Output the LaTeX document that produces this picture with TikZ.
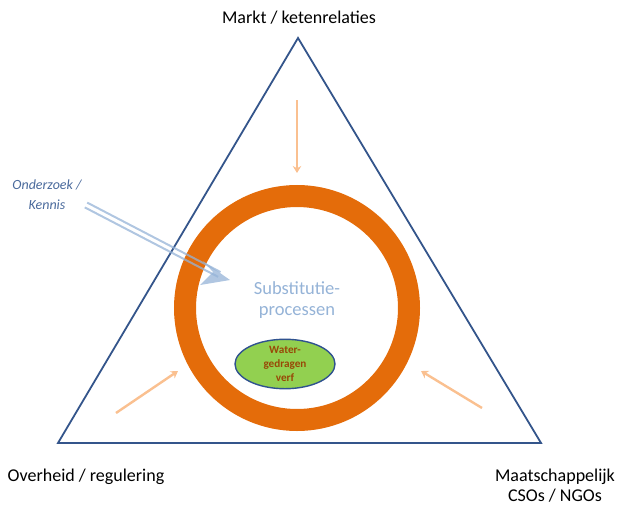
\documentclass[tikz,border=0pt]{standalone}
\usepackage{fontspec}
\setmainfont{Carlito}
\usetikzlibrary{arrows.meta,shapes.geometric}
\definecolor{triblue}{HTML}{34558B}
\definecolor{ringorange}{HTML}{E46C0A}
\definecolor{peach}{HTML}{FAC090}
\definecolor{paleblue}{HTML}{95B3D7}
\definecolor{labelblue}{HTML}{4A6A9C}
\definecolor{leafgreen}{HTML}{92D050}
\definecolor{ellipseedge}{HTML}{2F528F}
\definecolor{paintbrown}{HTML}{984807}
\begin{document}
\begin{tikzpicture}[x=1pt,y=-1pt,
  corner/.style={font=\fontsize{18}{20}\selectfont, align=center, text=black, inner sep=0pt},
  force/.style={draw=peach, line width=2.4pt, -{Stealth[length=7pt,width=8.5pt]}},
  sidenote/.style={font=\itshape\fontsize{14}{20}\selectfont, align=center, text=labelblue},
  rail/.style={draw=paleblue, line width=2pt},
]
\useasboundingbox (0,0) rectangle (619,506);

% triangle of forces
\coordinate (apex) at (298,38);
\coordinate (bl) at (58,443);
\coordinate (br) at (541,443);
\draw[triblue, line width=1.8pt, line join=miter] (apex) -- (bl) -- (br) -- cycle;

% ring of substitution processes
\node[circle, draw=ringorange, line width=22pt, minimum size=224pt, inner sep=0pt] (ring) at (297,308) {};

% corner labels
\node[corner] (markt) at (299,18) {Markt / ketenrelaties};
\node[corner] (overheid) at (86,477) {Overheid / regulering};
\node[corner] (maatsch) at (555,486) {Maatschappelijk\\CSOs / NGOs};

% centre text
\node[font=\fontsize{18.5}{21}\selectfont, align=center, text=paleblue] (subst) at (297,300) {Substitutie-\\processen};

% water-based paint
\node[ellipse, draw=ellipseedge, line width=1.4pt, fill=leafgreen, minimum width=100pt, minimum height=40pt, inner sep=0pt,
      font=\bfseries\fontsize{11.2}{13.8}\selectfont, align=center, text=paintbrown] (verf) at (285,364) {Water-\\gedragen\\verf};

% pressure arrows from the three corners
\coordinate (tstart) at (297,100);
\coordinate (tend) at (297,173);
\draw[force] (tstart) -- (tend);
\coordinate (lstart) at (116,413);
\coordinate (lend) at (178,371);
\draw[force] (lstart) -- (lend);
\coordinate (rstart) at (482,408);
\coordinate (rend) at (421,371);
\draw[force] (rstart) -- (rend);

% research / knowledge input: a hollow double arrow
\node[sidenote] (onderzoek) at (47,195) {Onderzoek /\\Kennis};
\coordinate (kstart) at (86,205);
\coordinate (kend) at (230,280);
\begin{scope}[opacity=0.75]
\draw[rail, shorten >=12pt, transform canvas={shift={(1.2,-2.4)}}] (kstart) -- (kend);
\draw[rail, shorten >=12pt, transform canvas={shift={(-1.2,2.4)}}] (kstart) -- (kend);
\fill[paleblue] (kend) -- ++(-27,-19) -- ++(10,11) -- ++(-13,13) -- cycle;
\end{scope}
\end{tikzpicture}
\end{document}
